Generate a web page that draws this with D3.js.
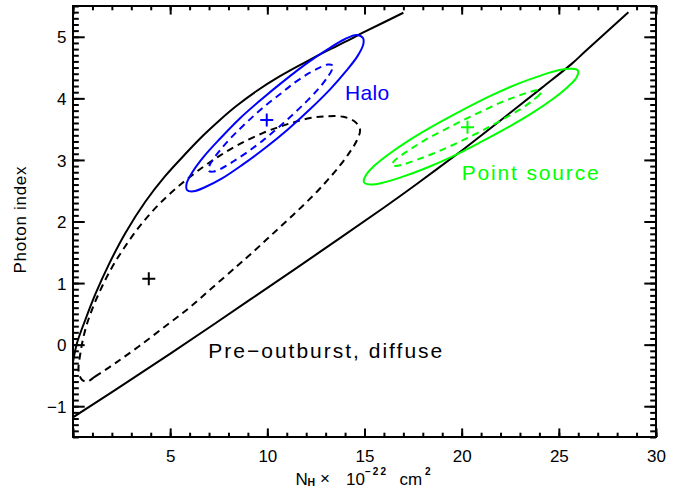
<!DOCTYPE html>
<html><head><meta charset="utf-8">
<script src="https://cdn.jsdelivr.net/npm/d3@7"></script>
<style>html,body{margin:0;padding:0;background:#fff;} svg{display:block;}</style>
</head><body>
<svg id="chart" width="694" height="491"></svg>
<script>
// ---- axis ticks / labels ----
const xTickValues = [0, 5, 10, 15, 20, 25, 30];
const xTickLabels = ["", "5", "10", "15", "20", "25", "30"];
const yTickValues = [-1, 0, 1, 2, 3, 4, 5];
const yTickLabels = ["\u22121", "0", "1", "2", "3", "4", "5"];

// ---- contours (N_H [1e22 cm^-2], photon index) ----
const diffuseUpper = [[0.0,-0.28],[0.21,0.03],[0.63,0.40],[1.15,0.82],[1.84,1.30],[2.69,1.81],[3.72,2.32],[4.75,2.74],[5.85,3.12],[6.71,3.40],[7.56,3.65],[8.42,3.88],[9.45,4.12],[10.65,4.36],[11.85,4.57],[13.06,4.77],[14.08,4.93],[14.94,5.07],[17.00,5.39]];
const diffuseLower = [[0.0,-1.18],[2.2,-0.73],[4.99,-0.15],[9.11,0.73],[12.54,1.47],[15.97,2.22],[17.69,2.61],[20.08,3.17],[20.94,3.38],[24.12,4.17],[25.66,4.56],[26.35,4.76],[28.58,5.40]];
const diffuseDashed = [[0.72,-0.60],[1.13,-0.52],[2.18,-0.30],[3.38,-0.03],[4.75,0.30],[5.95,0.59],[7.15,0.92],[8.42,1.27],[9.11,1.46],[10.14,1.76],[11.34,2.11],[12.54,2.48],[13.12,2.68],[13.74,2.91],[14.25,3.13],[14.61,3.32],[14.77,3.49],[14.51,3.62],[13.91,3.70],[13.06,3.71],[12.20,3.68],[11.34,3.61],[10.65,3.54],[9.79,3.44],[8.59,3.26],[7.56,3.07],[6.71,2.89],[5.61,2.62],[4.49,2.30],[3.55,1.97],[2.78,1.64],[2.09,1.30],[1.49,0.94],[0.98,0.57],[0.63,0.24],[0.38,-0.14],[0.29,-0.43],[0.46,-0.57]];
const haloSolid = [[14.92,4.98],[14.94,4.88],[14.65,4.69],[14.07,4.45],[13.24,4.15],[12.22,3.83],[11.07,3.50],[9.87,3.19],[8.71,2.92],[7.67,2.70],[6.81,2.56],[6.20,2.49],[5.87,2.51],[5.85,2.62],[6.14,2.80],[6.72,3.05],[7.55,3.34],[8.57,3.67],[9.72,3.99],[10.92,4.30],[12.08,4.58],[13.12,4.80],[13.98,4.96],[14.59,5.03]];
const haloDashed = [[13.33,4.54],[13.33,4.47],[13.11,4.35],[12.70,4.18],[12.11,3.98],[11.39,3.76],[10.58,3.53],[9.75,3.31],[8.94,3.12],[8.22,2.97],[7.63,2.86],[7.22,2.81],[7.00,2.82],[7.00,2.89],[7.21,3.01],[7.63,3.18],[8.22,3.39],[8.94,3.61],[9.74,3.84],[10.58,4.05],[11.38,4.25],[12.10,4.40],[12.69,4.50],[13.11,4.55]];
const pointSolid = [[25.99,4.45],[25.91,4.34],[25.47,4.19],[24.69,3.99],[23.62,3.76],[22.33,3.52],[20.92,3.28],[19.48,3.05],[18.11,2.86],[16.90,2.72],[15.93,2.63],[15.28,2.60],[14.97,2.64],[15.05,2.74],[15.49,2.90],[16.28,3.10],[17.35,3.33],[18.63,3.57],[20.04,3.81],[21.48,4.04],[22.85,4.23],[24.06,4.37],[25.03,4.46],[25.68,4.48]];
const pointDashed = [[24.08,4.11],[24.01,4.06],[23.67,3.97],[23.11,3.84],[22.34,3.70],[21.44,3.54],[20.45,3.38],[19.46,3.23],[18.51,3.10],[17.68,3.00],[17.03,2.93],[16.60,2.90],[16.42,2.91],[16.49,2.97],[16.83,3.06],[17.39,3.18],[18.15,3.33],[19.06,3.48],[20.04,3.64],[21.04,3.79],[21.99,3.93],[22.81,4.03],[23.47,4.10],[23.90,4.13]];

// ---- best-fit points ----
const bestFitNames = ["diffuse", "halo", "point"];
const bestFitNH = [3.9, 9.97, 20.3];
const bestFitGamma = [1.07, 3.65, 3.53];
const bestFitColors = ["#000000", "#0000ff", "#00ff00"];

// ---- labels ----
const labelTexts = ["Halo", "Point source", "Pre\u2212outburst, diffuse"];
const labelNH = [14.0, 20.0, 6.96];
const labelGamma = [3.97, 2.68, -0.21];
const labelColors = ["#0000ff", "#00ff00", "#000000"];

const M = {left: 73, right: 656, top: 6, bottom: 437};
const FONT = "'Liberation Sans', Arial, Helvetica, sans-serif";

const svg = d3.select("#chart");
const x = d3.scaleLinear().domain([0, 30]).range([M.left, M.right]);
const y = d3.scaleLinear().domain([-1.5, 5.5]).range([M.bottom, M.top]);

svg.append("defs").append("clipPath").attr("id", "clip")
  .append("rect").attr("x", M.left).attr("y", M.top)
  .attr("width", M.right - M.left).attr("height", M.bottom - M.top);

const plot = svg.append("g").attr("clip-path", "url(#clip)");

const openLine = d3.line().x(d => x(d[0])).y(d => y(d[1])).curve(d3.curveCatmullRom.alpha(0.5));
const closedLine = d3.line().x(d => x(d[0])).y(d => y(d[1])).curve(d3.curveCatmullRomClosed.alpha(0.5));

function draw(data, gen, color, dashed) {
  plot.append("path").attr("d", gen(data)).attr("fill", "none")
    .attr("stroke", color).attr("stroke-width", 2)
    .attr("stroke-linejoin", "round")
    .attr("stroke-dasharray", dashed ? "7,5" : null);
}
draw(diffuseUpper, openLine, "#000", false);
draw(diffuseLower, openLine, "#000", false);
draw(diffuseDashed, closedLine, "#000", true);
draw(haloSolid, closedLine, "#0000ff", false);
draw(haloDashed, closedLine, "#0000ff", true);
draw(pointSolid, closedLine, "#00ff00", false);
draw(pointDashed, closedLine, "#00ff00", true);

// crosses
bestFitNames.forEach((n, i) => {
  const cx = x(bestFitNH[i]), cy = y(bestFitGamma[i]), s = 6.5;
  plot.append("path").attr("d", `M${cx - s},${cy}H${cx + s}M${cx},${cy - s}V${cy + s}`)
    .attr("stroke", bestFitColors[i]).attr("stroke-width", 2).attr("fill", "none");
});

// labels
const labelWidths = [44, 137, 234];
labelTexts.forEach((t, i) => {
  svg.append("text").attr("x", x(labelNH[i])).attr("y", y(labelGamma[i]))
    .attr("font-family", FONT).attr("font-size", 21).attr("fill", labelColors[i])
    .attr("textLength", labelWidths[i]).attr("lengthAdjust", "spacing")
    .text(t);
});

// axes
function styleAxis(g) {
  g.select(".domain").remove();
  g.selectAll("line").attr("stroke", "#000").attr("stroke-width", 2);
  g.selectAll("text").attr("font-family", FONT).attr("font-size", 17).attr("fill", "#000");
  g.attr("font-family", null).attr("font-size", null);
}
const xMinor = d3.range(0, 31, 1);
const yMinor = d3.range(-15, 56).map(v => v / 10);
const xMaj = 8.6, xMin = 4.3, yMaj = 11.7, yMin = 5.8;

svg.append("g").attr("transform", `translate(0,${M.bottom})`)
  .call(d3.axisBottom(x).tickValues(xTickValues).tickSizeInner(-xMaj).tickSizeOuter(0)
    .tickPadding(12.5).tickFormat((d, i) => xTickLabels[i])).call(styleAxis);
svg.append("g").attr("transform", `translate(0,${M.bottom})`)
  .call(d3.axisBottom(x).tickValues(xMinor).tickSizeInner(-xMin).tickSizeOuter(0).tickFormat("")).call(styleAxis);
svg.append("g").attr("transform", `translate(0,${M.top})`)
  .call(d3.axisTop(x).tickValues(xTickValues).tickSizeInner(-xMaj).tickSizeOuter(0).tickFormat("")).call(styleAxis);
svg.append("g").attr("transform", `translate(0,${M.top})`)
  .call(d3.axisTop(x).tickValues(xMinor).tickSizeInner(-xMin).tickSizeOuter(0).tickFormat("")).call(styleAxis);

const yl = svg.append("g").attr("transform", `translate(${M.left},0)`)
  .call(d3.axisLeft(y).tickValues(yTickValues).tickSizeInner(-yMaj).tickSizeOuter(0)
    .tickPadding(6.5).tickFormat((d, i) => yTickLabels[i])).call(styleAxis);
yl.selectAll("text").attr("dy", "0.36em");
svg.append("g").attr("transform", `translate(${M.left},0)`)
  .call(d3.axisLeft(y).tickValues(yMinor).tickSizeInner(-yMin).tickSizeOuter(0).tickFormat("")).call(styleAxis);
svg.append("g").attr("transform", `translate(${M.right},0)`)
  .call(d3.axisRight(y).tickValues(yTickValues).tickSizeInner(-yMaj).tickSizeOuter(0).tickFormat("")).call(styleAxis);
svg.append("g").attr("transform", `translate(${M.right},0)`)
  .call(d3.axisRight(y).tickValues(yMinor).tickSizeInner(-yMin).tickSizeOuter(0).tickFormat("")).call(styleAxis);

// frame
svg.append("rect").attr("x", M.left).attr("y", M.top)
  .attr("width", M.right - M.left).attr("height", M.bottom - M.top)
  .attr("fill", "none").attr("stroke", "#000").attr("stroke-width", 2);

// y title
svg.append("text").attr("transform", "translate(26,220) rotate(-90)")
  .attr("text-anchor", "middle").attr("font-family", FONT).attr("font-size", 17)
  .attr("textLength", 107).attr("lengthAdjust", "spacing")
  .text("Photon index");

// x title: N_H × 10^-22 cm^2
const xt = svg.append("g").attr("font-family", FONT).attr("fill", "#000");
xt.append("text").attr("x", 295.5).attr("y", 485).attr("font-size", 17).text("N");
xt.append("text").attr("x", 307.5).attr("y", 485.5).attr("font-size", 10.5).attr("font-weight", "bold").text("H");
xt.append("text").attr("x", 320).attr("y", 484).attr("font-size", 17).text("\u00d7");
xt.append("text").attr("x", 346).attr("y", 485).attr("font-size", 17).text("10");
xt.append("text").attr("x", 365).attr("y", 474.5).attr("font-size", 10).attr("font-weight", "bold")
  .attr("letter-spacing", 2).text("\u221222");
xt.append("text").attr("x", 399.5).attr("y", 485).attr("font-size", 17).text("cm");
xt.append("text").attr("x", 425).attr("y", 474.5).attr("font-size", 10).attr("font-weight", "bold").text("2");
</script>
</body></html>
